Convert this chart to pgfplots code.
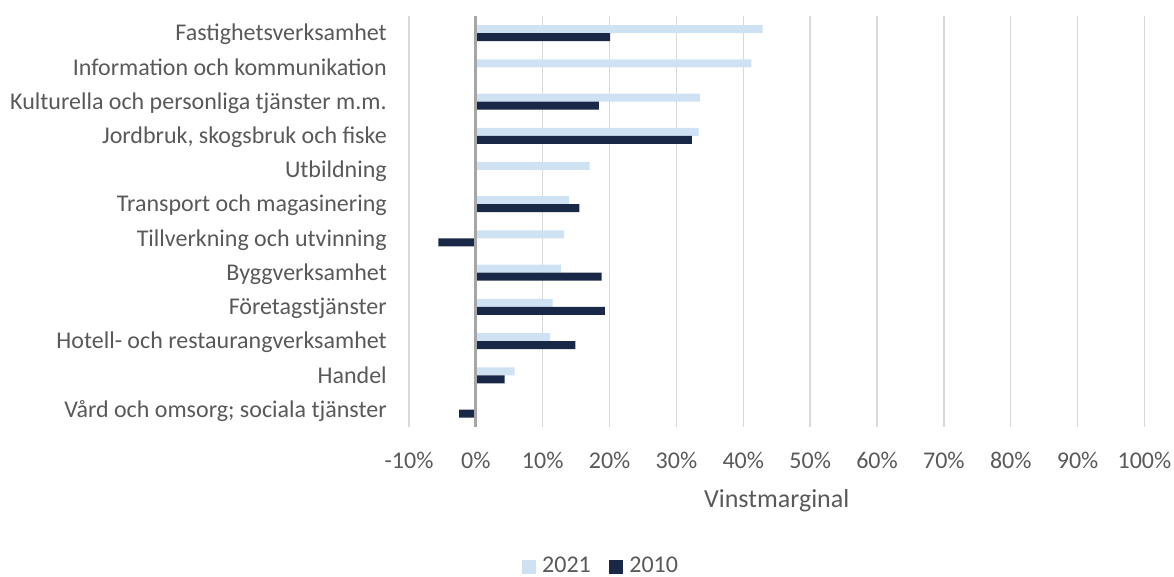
\documentclass[border=0pt]{standalone}
\usepackage{fontspec}
\setmainfont{Carlito}
\usepackage{pgfplots}
\pgfplotsset{compat=1.18}
\definecolor{lightbar}{RGB}{207,226,243}
\definecolor{darkbar}{RGB}{26,40,72}
\definecolor{txtgray}{RGB}{89,89,89}
\definecolor{gridgray}{RGB}{217,217,217}
\definecolor{axisgray}{RGB}{166,166,166}
\begin{document}
\begin{tikzpicture}
\useasboundingbox (-306.75pt,-112.7pt) rectangle (573.75pt,320pt);
\begin{axis}[
  scale only axis,
  width=551.6pt, height=308pt,
  xbar, bar width=6pt,
  xmin=-10, xmax=100, ymin=-0.5, ymax=11.5,
  axis line style={draw=none},
  xtick={-10,0,10,20,30,40,50,60,70,80,90,100},
  xticklabels={-10\%,0\%,10\%,20\%,30\%,40\%,50\%,60\%,70\%,80\%,90\%,100\%},
  ytick={0,1,2,3,4,5,6,7,8,9,10,11},
  yticklabels={Vård och omsorg; sociala tjänster, Handel, Hotell- och restaurangverksamhet, Företagstjänster, Byggverksamhet, Tillverkning och utvinning, Transport och magasinering, Utbildning, {Jordbruk, skogsbruk och fiske}, Kulturella och personliga tjänster m.m., Information och kommunikation, Fastighetsverksamhet},
  major tick length=0pt,
  tick style={draw=none},
  xmajorgrids, ymajorgrids=false,
  grid style={color=gridgray, line width=1.1pt},
  xticklabel style={anchor=north, inner sep=0pt, yshift=-19pt, text=txtgray, font=\fontsize{18}{21.6}\selectfont},
  yticklabel style={anchor=base east, inner sep=0pt, xshift=-16.5pt, yshift=-5.8pt, text=txtgray, font=\fontsize{18}{21.6}\selectfont},
  xlabel={Vinstmarginal},
  xlabel style={at={(rel axis cs:0.5,0)}, anchor=north, inner sep=0pt, yshift=-47pt, text=txtgray, font=\fontsize{19.5}{23}\selectfont},
  legend columns=2,
  legend style={at={(rel axis cs:0.2597,-0.3395)}, anchor=center, draw=none, fill=none, inner sep=0pt, text=txtgray, font=\fontsize{18}{21.6}\selectfont, /tikz/every even column/.append style={column sep=13.7pt}, nodes={inner sep=0pt, anchor=base west}},
  legend image code/.code={\path[#1,draw=none] (0pt,-1.2pt) rectangle (10.5pt,9.8pt);},
  legend cell align=left,
]
\addplot[fill=lightbar, draw=none, bar shift=3pt] coordinates {
  (42.9,11) (41.2,10) (33.5,9) (33.3,8) (17.0,7) (13.9,6) (13.2,5) (12.7,4) (11.5,3) (11.1,2) (5.8,1)
};
\addlegendentry{\hspace{4.7pt}2021}
\addplot[fill=darkbar, draw=none, bar shift=-3pt] coordinates {
  (20.1,11) (18.4,9) (32.3,8) (15.5,6) (-5.6,5) (18.8,4) (19.3,3) (14.9,2) (4.3,1) (-2.5,0)
};
\addlegendentry{\hspace{4.7pt}2010}
\draw[color=axisgray, line width=2.4pt] (axis cs:0,-0.5) -- (axis cs:0,11.5);
\end{axis}
\end{tikzpicture}
\end{document}
